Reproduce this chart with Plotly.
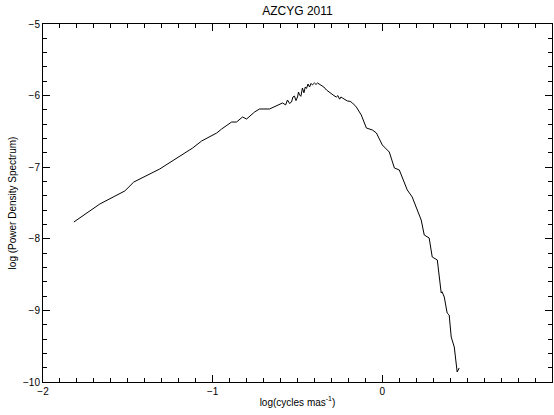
import plotly.graph_objects as go

# log spatial frequency (cycles per mas) and log power density
log_freq = [
    -1.818, -1.665, -1.518, -1.465, -1.312, -1.182, -1.118, -1.065, -0.976, -0.947,
    -0.888, -0.859, -0.824, -0.800, -0.753, -0.724, -0.665, -0.588, -0.570, -0.559,
    -0.547, -0.535, -0.527, -0.518, -0.509, -0.500, -0.494, -0.488, -0.480, -0.471,
    -0.462, -0.454, -0.447, -0.438, -0.429, -0.420, -0.412, -0.400, -0.391, -0.382,
    -0.370, -0.359, -0.345, -0.329, -0.300, -0.285, -0.271, -0.262, -0.252, -0.244,
    -0.235, -0.220, -0.206, -0.190, -0.176, -0.153, -0.124, -0.094, -0.059, -0.035,
    0.000, 0.041, 0.071, 0.100, 0.118, 0.147, 0.176, 0.206, 0.229, 0.247,
    0.276, 0.294, 0.324, 0.347, 0.352, 0.365, 0.382, 0.394, 0.406, 0.424,
    0.435, 0.441, 0.453,
]
log_power = [
    -7.765, -7.514, -7.332, -7.207, -7.025, -6.830, -6.732, -6.634, -6.522, -6.466,
    -6.369, -6.369, -6.299, -6.327, -6.229, -6.187, -6.187, -6.103, -6.130, -6.061,
    -6.110, -6.089, -6.020, -6.006, -6.070, -6.020, -5.950, -5.990, -6.010, -5.894,
    -5.960, -5.880, -5.900, -5.838, -5.880, -5.830, -5.850, -5.824, -5.845, -5.824,
    -5.840, -5.866, -5.880, -5.922, -5.978, -6.000, -6.020, -6.000, -6.050, -6.020,
    -6.034, -6.060, -6.075, -6.080, -6.103, -6.160, -6.271, -6.453, -6.480, -6.522,
    -6.690, -6.788, -7.011, -7.039, -7.137, -7.318, -7.416, -7.598, -7.737, -7.947,
    -7.989, -8.254, -8.296, -8.757, -8.740, -8.813, -9.036, -9.064, -9.372, -9.511,
    -9.791, -9.860, -9.804,
]

fig = go.Figure(
    go.Scatter(
        x=log_freq,
        y=log_power,
        mode="lines",
        line=dict(color="black", width=1),
        showlegend=False,
    )
)

font = "Liberation Sans, Arial, sans-serif"

axis_common = dict(
    showline=True,
    linecolor="black",
    linewidth=1,
    mirror="ticks",
    ticks="inside",
    ticklen=7,
    tickwidth=1,
    tickcolor="black",
    showgrid=False,
    zeroline=False,
    tickfont=dict(family=font, size=10, color="black"),
)

fig.update_xaxes(
    **axis_common,
    range=[-2, 1],
    tick0=0,
    dtick=1,
    minor=dict(dtick=0.1, tick0=0, ticks="inside", ticklen=4,
               tickwidth=1, tickcolor="black"),
    title=dict(
        text="log(cycles mas<sup>-1</sup>)",
        font=dict(family=font, size=10, color="black"),
        standoff=2,
    ),
)
fig.update_yaxes(
    **axis_common,
    range=[-10, -5],
    tick0=0,
    dtick=1,
    minor=dict(dtick=0.2, tick0=0, ticks="inside", ticklen=4,
               tickwidth=1, tickcolor="black"),
    title=dict(
        text="log (Power Density Spectrum)",
        font=dict(family=font, size=10, color="black"),
        standoff=4,
    ),
)

fig.update_layout(
    width=554,
    height=415,
    margin=dict(l=43, r=2, t=24, b=33),
    paper_bgcolor="white",
    plot_bgcolor="white",
    title=dict(
        text="AZCYG 2011",
        x=0.537,
        xanchor="center",
        y=0.975,
        yanchor="middle",
        font=dict(family=font, size=12, color="black"),
    ),
)

fig.write_html("out.html")
